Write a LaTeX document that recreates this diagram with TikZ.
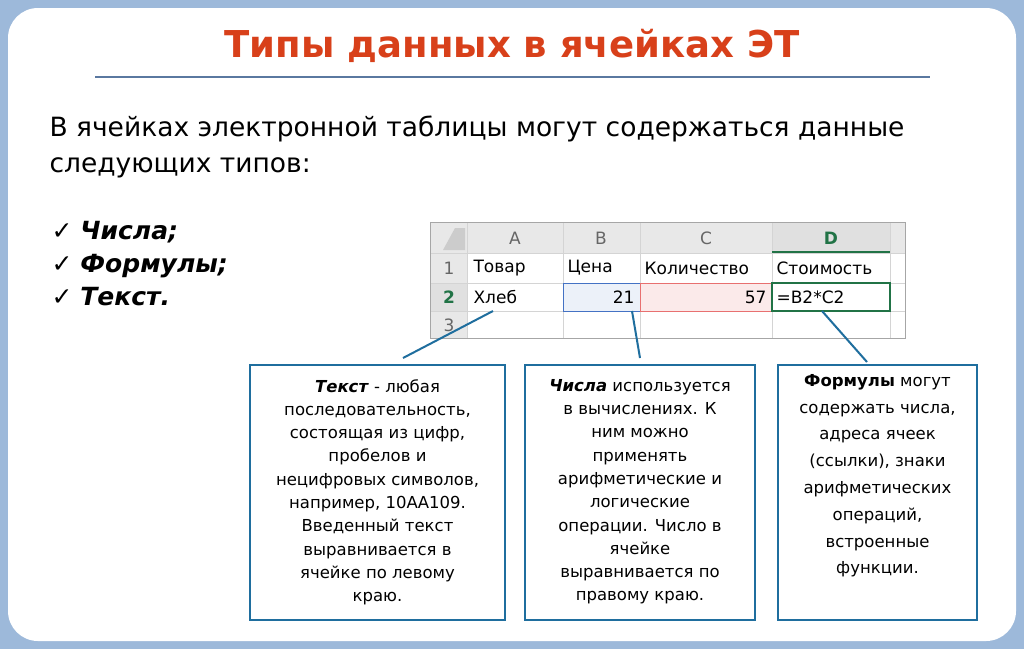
\documentclass[tikz,border=0pt]{standalone}
\usepackage{fontspec}
\setmainfont{DejaVu Sans}
\usetikzlibrary{positioning}
\definecolor{framebg}{RGB}{157,185,218}
\definecolor{titlered}{RGB}{216,64,26}
\definecolor{rulegray}{RGB}{90,120,160}
\definecolor{boxblue}{RGB}{31,110,158}
\definecolor{gridgray}{RGB}{212,212,212}
\definecolor{headgray}{RGB}{232,232,232}
\definecolor{xlgreen}{RGB}{33,115,70}
\definecolor{selblue}{RGB}{68,114,196}
\definecolor{selred}{RGB}{232,112,112}
\tikzset{
  infobox/.style={draw=boxblue, line width=2.5pt, fill=white},
  boxtext/.style={anchor=north, align=center, font=\fontsize{16.5}{23.3}\selectfont, inner sep=0pt},
  callout/.style={boxblue, line width=2pt},
  cell/.style={anchor=west, font=\fontsize{17}{19}\selectfont},
  colhead/.style={font=\fontsize{17}{19}\selectfont, text=black!60}
}
\begin{document}
\begin{tikzpicture}[x=1pt,y=-1pt]
\useasboundingbox (0,0) rectangle (1024,649);
% Frame
\fill[framebg] (0,0) rectangle (1024,649);
\fill[white, rounded corners=30pt] (8,8) rectangle (1016,641);
% Title
\node[font=\fontsize{37}{40}\selectfont\bfseries, text=titlered] (title) at (512,46) {Типы данных в ячейках ЭТ};
\draw[rulegray, line width=1.5pt] (95,77) -- (930,77);
% Intro text
\node[anchor=west, align=left, font=\fontsize{26.5}{36}\selectfont] (intro) at (46,147)
  {В ячейках электронной таблицы могут содержаться данные\\следующих типов:};
\node[anchor=north west, align=left, font=\fontsize{25}{33}\selectfont\bfseries\itshape] (types) at (48,218)
  {\normalfont\fontsize{25}{33}\selectfont✓\ \bfseries\itshape Числа;\\
   \normalfont\fontsize{25}{33}\selectfont✓\ \bfseries\itshape Формулы;\\
   \normalfont\fontsize{25}{33}\selectfont✓\ \bfseries\itshape Текст.};
% Spreadsheet
\fill[headgray] (430,222) rectangle (905,253);
\fill[headgray] (430,222) rectangle (467,338);
\fill[black!20] (455,228) -- (465,228) -- (465,250) -- (443,250) -- cycle;
\fill[black!12] (772,222) rectangle (890,253);
\fill[black!12] (430,283) rectangle (467,311);
\foreach \x in {467,563,640,772,890} \draw[gridgray] (\x,222) -- (\x,338);
\foreach \y in {253,283,311} \draw[gridgray] (430,\y) -- (905,\y);
\draw[xlgreen, line width=2pt] (772,252) -- (890,252);
\draw[black!35] (430,222) rectangle (905,338);
\fill[selblue!10] (563,283) rectangle (640,311);
\draw[selblue] (563,283) rectangle (640,311);
\fill[selred!15] (640,283) rectangle (772,311);
\draw[selred] (640,283) rectangle (772,311);
\draw[xlgreen, line width=1.5pt] (772,283) rectangle (890,311);
\foreach \c/\x in {A/515,B/601,C/706} \node[colhead] at (\x,238) {\c};
\node[colhead, text=xlgreen, font=\fontsize{17}{19}\selectfont\bfseries] at (831,238) {D};
\node[colhead] at (449,268) {1};
\node[colhead, text=xlgreen, font=\fontsize{17}{19}\selectfont\bfseries] at (449,297) {2};
\node[colhead] at (449,325) {3};
\node[cell] at (470,268) {Товар};
\node[cell] at (564,268) {Цена};
\node[cell] at (641,268) {Количество};
\node[cell] at (773,268) {Стоимость};
\node[cell] (bread) at (470,297) {Хлеб};
\node[cell, anchor=east] (price) at (638,297) {21};
\node[cell, anchor=east] at (770,297) {57};
\node[cell] (formula) at (773,297) {=B2*C2};
\coordinate (ptA) at (493,311);
\coordinate (ptB) at (632,311);
\coordinate (ptD) at (822,311);
% Boxes
\draw[infobox] (250,365) rectangle (505,620);
\draw[infobox] (525,365) rectangle (755,620);
\draw[infobox] (778,365) rectangle (977,620);
\node[boxtext] (textbox) at (377.5,379)
  {\textbf{\textit{Текст}} - любая\\последовательность,\\состоящая из цифр,\\пробелов и\\нецифровых символов,\\например, 10АА109.\\Введенный текст\\выравнивается в\\ячейке по левому\\краю.};
\node[boxtext] (numbox) at (640,379)
  {\textbf{\textit{Числа}} используется\\в вычислениях. К\\ним можно\\применять\\арифметические и\\логические\\операции. Число в\\ячейке\\выравнивается по\\правому краю.};
\node[boxtext, font=\fontsize{16.5}{26.8}\selectfont] (formbox) at (877.5,374)
  {\textbf{Формулы} могут\\содержать числа,\\адреса ячеек\\(ссылки), знаки\\арифметических\\операций,\\встроенные\\функции.};
% Callouts
\draw[callout] (ptA) -- (403,358);
\draw[callout] (ptB) -- (640,358);
\draw[callout] (ptD) -- (867,362);
\end{tikzpicture}
\end{document}
